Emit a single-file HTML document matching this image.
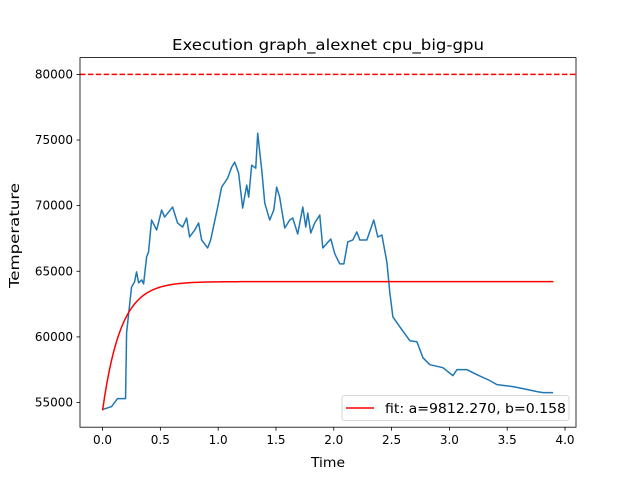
<!DOCTYPE html>
<html><head><meta charset="utf-8"><style>
html,body{margin:0;padding:0;background:#fff;}
svg{display:block;font-family:"DejaVu Sans","Liberation Sans",sans-serif;}
</style></head><body>
<svg id="chart" width="640" height="480" viewBox="0 0 640 480">
<rect width="640" height="480" fill="#fff"/>
<text x="172" y="50" font-size="15" textLength="312" lengthAdjust="spacingAndGlyphs">Execution graph_alexnet cpu_big-gpu</text>
<text x="311" y="467" font-size="13" textLength="34" lengthAdjust="spacingAndGlyphs">Time</text>
<text x="19" y="288" font-size="13" textLength="105" lengthAdjust="spacingAndGlyphs" transform="rotate(-90 19 288)">Temperature</text>
<g id="plot"></g>
<g id="axes"></g>
</svg>
<script>
const xTicks=[0,0.5,1,1.5,2,2.5,3,3.5,4];
const xTickLabels=["0.0","0.5","1.0","1.5","2.0","2.5","3.0","3.5","4.0"];
const yTicks=[55000,60000,65000,70000,75000,80000];
const yTickLabels=["55000","60000","65000","70000","75000","80000"];
const thresholdValue=80000;
const fitA=9812.270, fitB=0.158, fitStart=54400, fitEnd=3.9;
const times=[0,0.078,0.13,0.199,0.208,0.251,0.277,0.294,0.312,0.338,0.355,0.381,0.398,0.424,0.468,0.511,0.537,0.606,0.649,0.693,0.727,0.753,0.797,0.831,0.857,0.909,0.935,0.996,1.03,1.082,1.117,1.143,1.177,1.212,1.247,1.264,1.29,1.325,1.342,1.377,1.403,1.446,1.481,1.506,1.532,1.55,1.576,1.619,1.645,1.688,1.732,1.758,1.775,1.801,1.835,1.879,1.905,1.974,2.009,2.052,2.087,2.121,2.165,2.199,2.225,2.286,2.346,2.381,2.416,2.459,2.485,2.511,2.571,2.658,2.719,2.771,2.831,2.944,3.03,3.065,3.152,3.238,3.351,3.411,3.55,3.636,3.758,3.81,3.896];
const temps=[54464,54692,55300,55300,60316,63812,64192,64952,64116,64344,64040,66092,66472,68904,68144,69664,69132,69892,68676,68372,69056,67612,68144,68676,67384,66776,67384,69892,71412,72096,72932,73312,72476,69816,71564,70652,73084,72856,75516,72704,70196,68904,69664,71412,70652,69664,68296,68904,69056,67840,69892,68372,69436,67916,68676,69284,66776,67460,66320,65560,65560,67232,67384,68000,67384,67384,68904,67612,67764,65712,63356,61532,60772,59708,59632,58416,57884,57656,57048,57504,57504,57124,56668,56364,56212,56060,55832,55756,55756];
const X0=80,X1=576,Y0=57.6,Y1=427.2,xmin=-0.195,xmax=4.095,ymin=53120,ymax=81280;
const sx=t=>X0+(t-xmin)/(xmax-xmin)*(X1-X0);
const sy=v=>Y1-(v-ymin)/(ymax-ymin)*(Y1-Y0);
const NS="http://www.w3.org/2000/svg";
const plot=document.getElementById('plot'),axes=document.getElementById('axes');
function mk(tag,attrs,parent){const e=document.createElementNS(NS,tag);for(const k in attrs)e.setAttribute(k,attrs[k]);parent.appendChild(e);return e;}
const th=mk('line',{x1:X0,x2:X1,y1:sy(thresholdValue),y2:sy(thresholdValue),stroke:'#ff0000','stroke-width':1.5,'stroke-dasharray':'5.5,2.4'},plot);


let d='';times.forEach((t,i)=>{d+=(i?'L':'M')+sx(t).toFixed(2)+','+sy(temps[i]).toFixed(2);});
const dl=mk('path',{d:d,fill:'none',stroke:'#1f77b4','stroke-width':1.5,'stroke-linejoin':'round'},plot);


let fd='';for(let i=0;i<=200;i++){const t=fitEnd*i/200;const v=fitStart+fitA*(1-Math.exp(-t/fitB));fd+=(i?'L':'M')+sx(t).toFixed(2)+','+sy(v).toFixed(2);}
const fl=mk('path',{d:fd,fill:'none',stroke:'#ff0000','stroke-width':1.5},plot);


const fr=mk('rect',{x:X0,y:Y0,width:X1-X0,height:Y1-Y0,fill:'none',stroke:'#000','stroke-width':0.8},axes);


xTicks.forEach((t,i)=>{const x=sx(t);
 const tk=mk('line',{x1:x,x2:x,y1:Y1,y2:Y1+3.5,stroke:'#000','stroke-width':0.8},axes);
 
 
 const tl=mk('text',{x:x,y:Y1+17,'font-size':12,'text-anchor':'middle'},axes);tl.textContent=xTickLabels[i];
 
 
});
yTicks.forEach((v,i)=>{const y=sy(v);
 const tk=mk('line',{x1:X0-3.5,x2:X0,y1:y,y2:y,stroke:'#000','stroke-width':0.8},axes);
 
 
 const tl=mk('text',{x:X0-7,y:y+4,'font-size':12,'text-anchor':'end'},axes);tl.textContent=yTickLabels[i];
 
 
});
const lg=mk('g',{},axes);


mk('rect',{x:342,y:395.5,width:227,height:25,rx:2.5,fill:'#fff','fill-opacity':0.8,stroke:'#ccc','stroke-width':0.8},lg);
mk('line',{x1:346,x2:374,y1:408,y2:408,stroke:'#ff0000','stroke-width':1.5},lg);
const lt=mk('text',{x:385,y:413,'font-size':13.5,textLength:181,lengthAdjust:'spacingAndGlyphs'},lg);lt.textContent='fit: a=9812.270, b=0.158';


</script>
</body></html>
